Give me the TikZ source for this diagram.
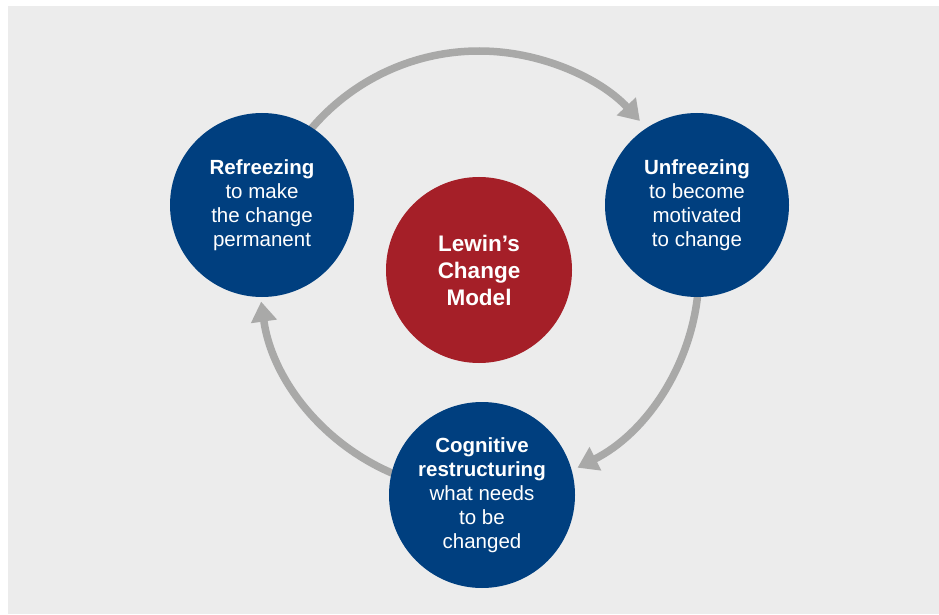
\documentclass[tikz,border=0pt]{standalone}
\usepackage{fontspec}
\setmainfont{Liberation Sans}
\usetikzlibrary{arrows.meta,calc}
\definecolor{panel}{HTML}{ECECEC}
\definecolor{bluecirc}{HTML}{003F7F}
\definecolor{redcirc}{HTML}{A51F28}
\definecolor{arrowgray}{HTML}{A9A9A8}
\tikzset{
  x=1pt, y=1pt,
  stage/.style={circle, fill=bluecirc, minimum size=184pt, inner sep=0pt,
    text=white, align=center, font=\fontsize{20.5}{24}\selectfont},
  core/.style={circle, fill=redcirc, minimum size=186pt, inner sep=0pt,
    text=white, align=center, font=\fontsize{22.5}{27}\selectfont\bfseries},
  cyclearrow/.style={draw=arrowgray, line width=7.5pt,
    -{Triangle[width=25pt,length=20pt]}}
}
\begin{document}
\begin{tikzpicture}
\useasboundingbox (0,0) rectangle (939,614);
\fill[white] (0,0) rectangle (939,614);
\fill[panel] (8,0) rectangle (939,608);
\coordinate (O) at (479,343);
% arcs of the cycle
\draw[cyclearrow] ($(O)+(145:220)$) arc[start angle=145, end angle=43, radius=220];
\draw[cyclearrow] ($(O)+(-5:220)$) arc[start angle=-5, end angle=-63.4, radius=220];
\draw[cyclearrow] ($(O)+(-110:220)$) arc[start angle=-110, end angle=-172, radius=220];
% circles
\node[stage] (refreeze) at (262,409) {\textbf{Refreezing}\\to make\\the change\\permanent};
\node[stage] (unfreeze) at (697,409) {\textbf{Unfreezing}\\to become\\motivated\\to change};
\node[core] (lewin) at (479,344) {Lewin’s\\Change\\Model};
\node[stage, minimum size=186pt] (cognitive) at (482,119) {\textbf{Cognitive}\\\textbf{restructuring}\\what needs\\to be\\changed};
\end{tikzpicture}
\end{document}
